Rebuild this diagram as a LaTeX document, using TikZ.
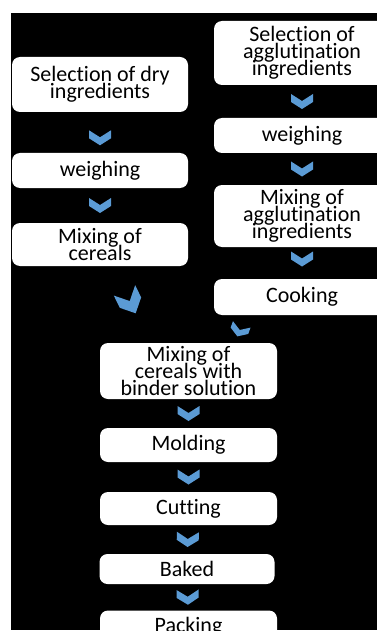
\documentclass[tikz,border=0pt]{standalone}
\usepackage{fontspec}
\setmainfont{Carlito}[RawFeature={-liga;-clig;-dlig;-calt}]
\definecolor{chevblue}{HTML}{5B9BD5}
\newcommand\boxwidth{176pt}
\newcommand\boxfont{\fontsize{22}{16.8}\selectfont\lineskiplimit=-30pt}
\tikzstyle{stage} = [rectangle, rounded corners=8pt, minimum width=\boxwidth, inner sep=0pt, align=center, fill=white, font=\boxfont]
\tikzset{chevron/.pic={\fill[chevblue] (-7.5,11) -- (-0.5,0) -- (-7.5,-11) -- (0.5,-11) -- (7.5,0) -- (0.5,11) -- cycle;}}

\begin{document}
\begin{tikzpicture}[x=1pt, y=1pt, allow upside down]

            \useasboundingbox (0,0) rectangle (377,-639);
            \clip (11,-13) rectangle (377,-630);
            \fill[black] (11,-13) rectangle (377,-630);

            % dry side
            \node (dry) [stage, minimum height=55pt] at (100,-84.5) {Selection of dry\\ingredients};
            \node (weighdry) [stage, minimum height=35pt, node distance=86pt, below of=dry] {weighing};
            \node (cereals) [stage, minimum height=43pt, node distance=74pt, below of=weighdry] {Mixing of\\cereals};

            % binder side
            \node (agglu) [stage, minimum height=64pt] at (302,-53) {Selection of\\agglutination\\ingredients};
            \node (weighagglu) [stage, minimum height=35pt, node distance=82.5pt, below of=agglu] {weighing};
            \node (mixagglu) [stage, minimum height=62pt, node distance=80.5pt, below of=weighagglu] {Mixing of\\agglutination\\ingredients};
            \node (cooking) [stage, minimum height=36pt, node distance=81pt, below of=mixagglu] {Cooking};

            % common line
            \node (binder) [stage, minimum width=177pt, minimum height=56pt, node distance=126.5pt, below of=cereals, xshift=88.5pt] {Mixing of\\cereals with\\binder solution};
            \node (molding) [stage, minimum width=177pt, minimum height=34pt, node distance=74pt, below of=binder] {Molding};
            \node (cutting) [stage, minimum width=177pt, minimum height=33pt, node distance=63.5pt, below of=molding] {Cutting};
            \node (baked) [stage, minimum width=175pt, minimum height=30pt, node distance=60.5pt, below of=cutting, xshift=-1.5pt] {Baked};
            \node (packing) [stage, minimum width=177pt, minimum height=33pt, node distance=58pt, below of=baked, xshift=1.5pt] {Packing};

            \path (dry) -- (weighdry) pic[pos=.63, sloped]{chevron};
            \path (weighdry) -- (cereals) pic[midway, sloped]{chevron};
            \path (agglu) -- (weighagglu) pic[midway, sloped]{chevron};
            \path (weighagglu) -- (mixagglu) pic[midway, sloped]{chevron};
            \path (mixagglu) -- (cooking) pic[midway, sloped, xshift=-4pt]{chevron};
            \path (cereals.south) -- (binder.center) pic[pos=.34, rotate=-64, xscale=1.7, yscale=1.08]{chevron};
            \path (cooking.south) -- (binder.north) pic[pos=.55, rotate=-110, scale=.85]{chevron};
            \path (binder) -- (molding) pic[midway, sloped]{chevron};
            \path (molding) -- (cutting) pic[midway, sloped]{chevron};
            \path (cutting) -- (baked) pic[midway, sloped]{chevron};
            \path (baked) -- (packing) pic[midway, sloped]{chevron};

        \end{tikzpicture}
\end{document}
